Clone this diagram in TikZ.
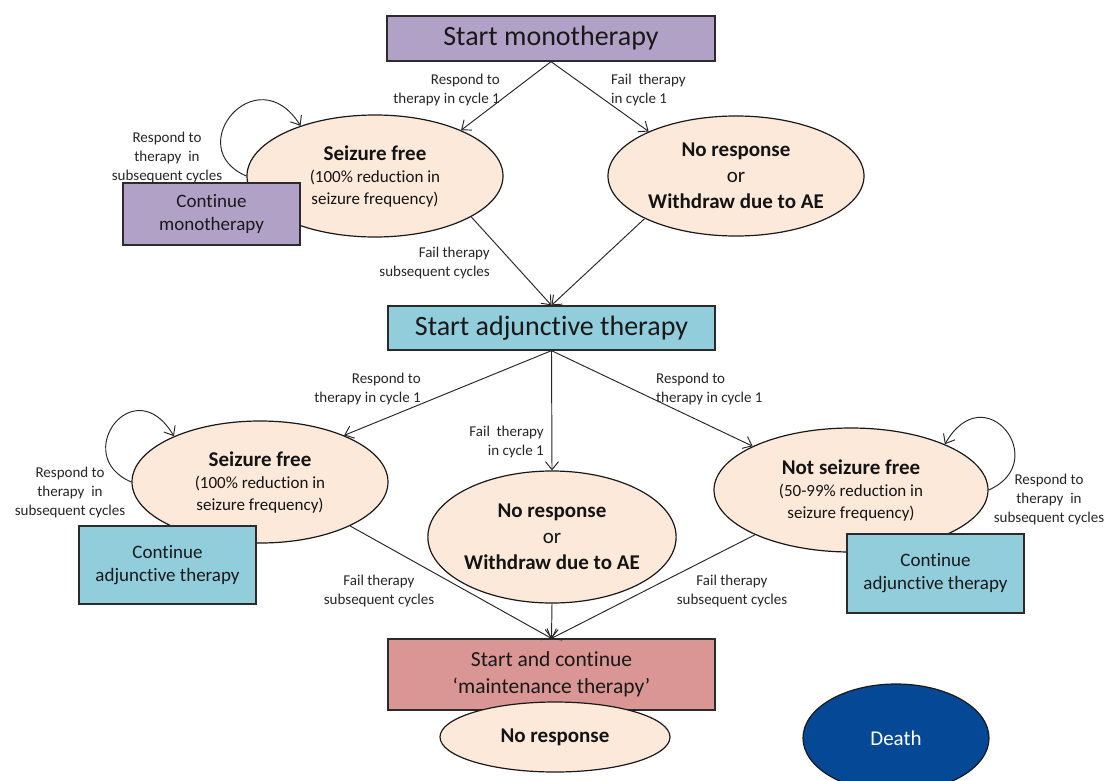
\documentclass[tikz,border=0pt]{standalone}
\usepackage{fontspec}
\setmainfont{Carlito}[Ligatures=NoCommon]
\usetikzlibrary{shapes.geometric,arrows.meta}
\definecolor{purp}{HTML}{B2A1C7}
\definecolor{aqua}{HTML}{92CDDC}
\definecolor{peach}{HTML}{FDE9D9}
\definecolor{rose}{HTML}{D99694}
\definecolor{navy}{RGB}{4,72,150}
\definecolor{edge}{HTML}{2B2B2B}
\newcommand{\fsz}[2]{\fontsize{#1}{#2}\selectfont}
\begin{document}
\begin{tikzpicture}[x=1pt,y=-1pt,
  box/.style={draw=edge, line width=1.3pt, inner sep=0pt, align=center, text=black!90},
  ell/.style={ellipse, draw=black!90, line width=1.2pt, fill=peach, inner sep=0pt, align=center, text=black!92},
  lbl/.style={font=\fsz{15}{19}, text=black!85, inner sep=0pt},
  arr/.style={draw=black!85, line width=0.95pt, -{Straight Barb[length=8pt,width=13pt]}},
  ]
\useasboundingbox[fill=white] (0,0) rectangle (1109,780);

% ellipses (states)
\node[ell, minimum width=256pt, minimum height=122pt, font=\fsz{17}{22}] (sf) at (375,176)
  {{\fsz{21}{23}\bfseries Seizure free}\\(100\% reduction in\\seizure frequency)};
\node[ell, minimum width=256pt, minimum height=120pt, font=\fsz{21}{26}] (nr) at (736,176)
  {{\bfseries No response}\\or\\{\bfseries Withdraw due to AE}};
\node[ell, minimum width=256pt, minimum height=122pt, font=\fsz{17}{22}] (sfa) at (260,482)
  {{\fsz{21}{23}\bfseries Seizure free}\\(100\% reduction in\\seizure frequency)};
\node[ell, minimum width=240pt, minimum height=132pt, font=\fsz{21}{26}] (nra) at (552,537)
  {{\bfseries No response}\\or\\{\bfseries Withdraw due to AE}};
\node[ell, minimum width=274pt, minimum height=124pt, font=\fsz{17}{22}] (nsf) at (851,490)
  {{\fsz{21}{23}\bfseries Not seizure free}\\(50-99\% reduction in\\seizure frequency)};

% boxes
\node[box, fill=purp, minimum width=328pt, minimum height=45pt, font=\fsz{28}{32}] (sm) at (551,38.5) {Start monotherapy};
\node[box, fill=purp, minimum width=177pt, minimum height=62pt, font=\fsz{19}{23}] (cm) at (211.5,214) {Continue\\monotherapy};
\node[box, fill=aqua, minimum width=327pt, minimum height=44pt, font=\fsz{28}{32}] (adj) at (551.5,328) {Start adjunctive therapy};
\node[box, fill=aqua, minimum width=177pt, minimum height=78pt, font=\fsz{19}{23}] (ca1) at (167.5,565) {Continue\\adjunctive therapy};
\node[box, fill=aqua, minimum width=177pt, minimum height=79pt, font=\fsz{19}{23}] (ca2) at (935.5,573.5) {Continue\\adjunctive therapy};
\node[box, fill=rose, minimum width=327pt, minimum height=71pt, font=\fsz{21.5}{27}] (mt) at (551.5,674.5) {Start and continue\\‘maintenance therapy’};
\node[ell, minimum width=230pt, minimum height=70pt, font=\fsz{21}{26}] (nrb) at (555,737) {\bfseries No response};
\node[ellipse, draw=black!90, line width=1.2pt, fill=navy, text=white, inner sep=0pt, minimum width=186pt, minimum height=108pt, font=\fsz{21}{26}] (death) at (896,738) {Death};

% connectors
\draw[arr] (sm.south) -- (sf.28);
\draw[arr] (sm.south) -- (nr.153);
\draw[arr] (sf.-23) -- (adj.north);
\draw[arr] (nr.205) -- (adj.north);
\draw[arr] (adj.south) -- (sfa.29);
\draw[arr] (adj.south) -- (nra.north);
\draw[arr] (adj.south) -- (nsf.156);
\draw[arr] (sfa.-26) -- (mt.north);
\draw[arr] (nra.south) -- (mt.north);
\draw[arr] (nsf.205) -- (mt.north);
\draw[arr] (sf.180) .. controls +(-66,-28) and +(-44,-70) .. (sf.146);
\draw[arr] (sfa.180) .. controls +(-62,-26) and +(-40,-68) .. (sfa.152);
\draw[arr] (nsf.0) .. controls +(64,-28) and +(40,-70) .. (nsf.26);

% labels
\node[lbl, align=right, anchor=east] (l1) at (500,89.5) {Respond to\\therapy in cycle 1};
\node[lbl, align=left, anchor=west] (l2) at (611,89.5) {Fail\ \ therapy\\in cycle 1};
\node[lbl, align=center] (l3) at (167,157) {Respond to\\therapy\ \ in\\subsequent cycles};
\node[lbl, align=right, anchor=east] (l4) at (490,262.5) {Fail therapy\\subsequent cycles};
\node[lbl, align=right, anchor=east] (l5) at (421,388.5) {Respond to\\therapy in cycle 1};
\node[lbl, align=right, anchor=east] (l6) at (544,441.5) {Fail\ \ therapy\\in cycle 1};
\node[lbl, align=left, anchor=west] (l7) at (656,388.5) {Respond to\\therapy in cycle 1};
\node[lbl, align=center] (l8) at (70,492.5) {Respond to\\therapy\ \ in\\subsequent cycles};
\node[lbl, align=center] (l9) at (379,590.5) {Fail therapy\\subsequent cycles};
\node[lbl, align=center] (l10) at (732,591) {Fail therapy\\subsequent cycles};
\node[lbl, align=center] (l11) at (1049,499) {Respond to\\therapy\ \ in\\subsequent cycles};
\end{tikzpicture}
\end{document}
